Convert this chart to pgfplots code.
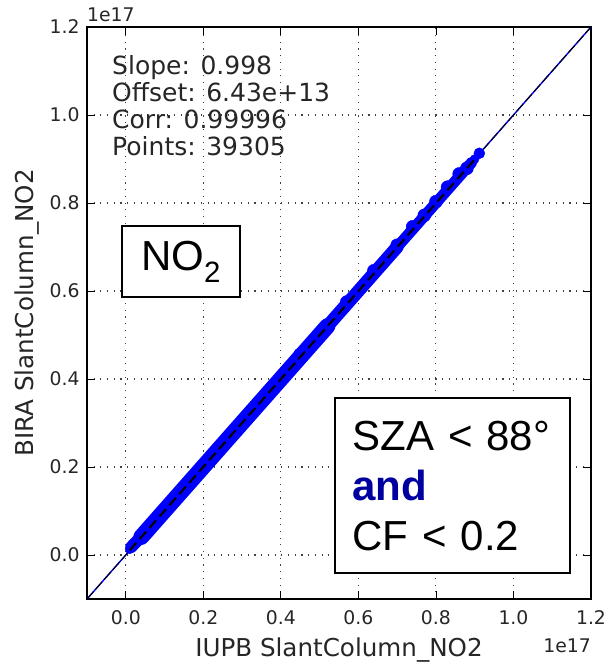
\documentclass[border=0pt]{standalone}
\usepackage{pgfplots}
\pgfplotsset{compat=1.18}
\usepackage{fontspec}
\setmainfont{DejaVu Sans}
\newfontfamily\arial{Liberation Sans}
\definecolor{mblue}{RGB}{0,0,255}
\definecolor{andblue}{RGB}{0,0,160}
\begin{document}
\begin{tikzpicture}
\begin{axis}[
  scale only axis, width=504pt, height=572pt,
  xmin=-0.1, xmax=1.2, ymin=-0.1, ymax=1.2,
  xtick={0,0.2,0.4,0.6,0.8,1.0,1.2},
  ytick={0,0.2,0.4,0.6,0.8,1.0,1.2},
  xticklabels={0.0,0.2,0.4,0.6,0.8,1.0,1.2},
  yticklabels={0.0,0.2,0.4,0.6,0.8,1.0,1.2},
  scaled ticks=false,
  /pgf/number format/assume math mode=true,
  tick label style={font=\fontsize{18.8}{20}\selectfont, text=black!85},
  xticklabel style={anchor=base, yshift=-25pt},
  yticklabel style={anchor=east, xshift=-4pt},
  tick align=inside, major tick length=8pt,
  every tick/.style={black, line width=0.8pt},
  axis line style={line width=1.5pt},
  grid=major,
  major grid style={black!75, line width=1.1pt, dash pattern=on 1.1pt off 5.6pt},
  xlabel={IUPB SlantColumn\_NO2},
  ylabel={BIRA SlantColumn\_NO2},
  label style={font=\fontsize{24.6}{26}\selectfont, text=black!85},
  xlabel style={at={(axis description cs:0.5,-0.1010)}, anchor=base},
  ylabel style={at={(axis description cs:-0.107,0.5)}, anchor=base},
  clip mode=individual,
]
% 1:1 line
\addplot[mblue, line width=1.4pt] coordinates {(-0.1,-0.1) (1.2,1.2)};
\addplot[black, line width=1.0pt, dash pattern=on 10pt off 3pt] coordinates {(-0.1,-0.1) (1.2,1.2)};
% dense point cloud (band)
\addplot[mblue, line width=12pt, line cap=round] coordinates {(0.014,0.018) (0.06,0.06)};
\addplot[mblue, line width=16pt, line cap=round] coordinates {(0.04,0.041) (0.52,0.52)};
\addplot[mblue, line width=13pt, line cap=round] coordinates {(0.50,0.50) (0.70,0.70)};
\addplot[mblue, line width=11pt, line cap=round] coordinates {(0.68,0.68) (0.893,0.893)};
% scatter points
\addplot[only marks, mark=*, mark size=4.5pt, mark options={fill=mblue, draw=mblue}] table {
x y
0.010 0.013
0.020 0.019
0.030 0.031
0.040 0.038
0.050 0.050
0.060 0.062
0.070 0.069
0.080 0.081
0.090 0.088
0.100 0.100
0.110 0.112
0.120 0.119
0.130 0.131
0.140 0.138
0.150 0.150
0.160 0.162
0.170 0.169
0.180 0.181
0.190 0.188
0.200 0.200
0.210 0.212
0.220 0.219
0.230 0.231
0.240 0.238
0.250 0.250
0.260 0.262
0.270 0.269
0.280 0.281
0.290 0.288
0.300 0.300
0.310 0.312
0.320 0.319
0.330 0.331
0.340 0.338
0.350 0.350
0.360 0.362
0.370 0.369
0.380 0.381
0.390 0.388
0.400 0.400
0.410 0.412
0.420 0.419
0.430 0.431
0.440 0.438
0.450 0.450
0.460 0.462
0.470 0.469
0.480 0.481
0.490 0.488
0.500 0.500
0.510 0.512
0.520 0.519
0.530 0.531
0.540 0.538
0.550 0.550
0.560 0.562
0.570 0.569
0.580 0.581
0.590 0.588
0.600 0.600
0.610 0.612
0.620 0.619
0.630 0.631
0.640 0.638
0.650 0.650
0.660 0.662
0.670 0.669
0.680 0.681
0.690 0.688
0.700 0.700
0.710 0.712
0.720 0.719
0.730 0.731
0.740 0.738
0.750 0.750
0.760 0.762
0.770 0.769
0.780 0.781
0.790 0.788
0.800 0.800
0.810 0.812
0.820 0.819
0.830 0.831
0.840 0.838
0.850 0.850
0.860 0.862
0.870 0.869
0.880 0.881
0.890 0.888
0.900 0.900
};
% outlying points that bulge the band
\addplot[only marks, mark=*, mark size=6.5pt, mark options={fill=mblue, draw=mblue}] table {
x y
0.45 0.456
0.57 0.575
0.64 0.646
0.70 0.704
0.74 0.746
0.77 0.772
0.80 0.803
0.83 0.836
0.86 0.866
0.88 0.879
};
\addplot[only marks, mark=*, mark size=5.5pt, mark options={fill=mblue, draw=mblue}] coordinates {(0.912,0.913)};
% fit line over the points
\addplot[black, line width=2.1pt, dash pattern=on 10pt off 5pt] coordinates {(0.01,0.0106) (0.90,0.899)};
% annotations
\node[anchor=base west, inner sep=0pt, font=\fontsize{25}{27}\selectfont, text=black!85]
  at (rel axis cs:0.0496,0.9161) {Slope: 0.998};
\node[anchor=base west, inner sep=0pt, font=\fontsize{25}{27}\selectfont, text=black!85]
  at (rel axis cs:0.0496,0.8689) {Offset: 6.43e+13};
\node[anchor=base west, inner sep=0pt, font=\fontsize{25}{27}\selectfont, text=black!85]
  at (rel axis cs:0.0496,0.8217) {Corr: 0.99996};
\node[anchor=base west, inner sep=0pt, font=\fontsize{25}{27}\selectfont, text=black!85]
  at (rel axis cs:0.0496,0.7745) {Points: 39305};
\node[draw=black, line width=1.5pt, fill=white, minimum width=118pt, minimum height=71pt, inner sep=0pt,
  font=\arial\fontsize{42}{44}\selectfont] at (rel axis cs:0.1865,0.590) {NO\textsubscript{2}};
\node[draw=black, line width=1.5pt, fill=white, minimum width=235pt, minimum height=175pt,
  text width=200pt, inner xsep=17.5pt, align=left,
  font=\arial\fontsize{42}{50}\selectfont] at (rel axis cs:0.725,0.198)
  {SZA < 88°\\{\bfseries\color{andblue}and}\\CF < 0.2};
\node[anchor=base west, inner sep=0pt, font=\fontsize{18.8}{20}\selectfont, text=black!85]
  at (rel axis cs:0,1) [yshift=5pt] {1e17};
\node[anchor=base east, inner sep=0pt, font=\fontsize{18.8}{20}\selectfont, text=black!85]
  at (rel axis cs:1,0) [yshift=-53pt] {1e17};
\coordinate (bl) at (rel axis cs:0,0);
\coordinate (tr) at (rel axis cs:1,1);
\end{axis}
\pgfresetboundingbox
\path ([xshift=-87pt,yshift=-63pt]bl) rectangle ([xshift=18pt,yshift=27pt]tr);
\end{tikzpicture}
\end{document}
